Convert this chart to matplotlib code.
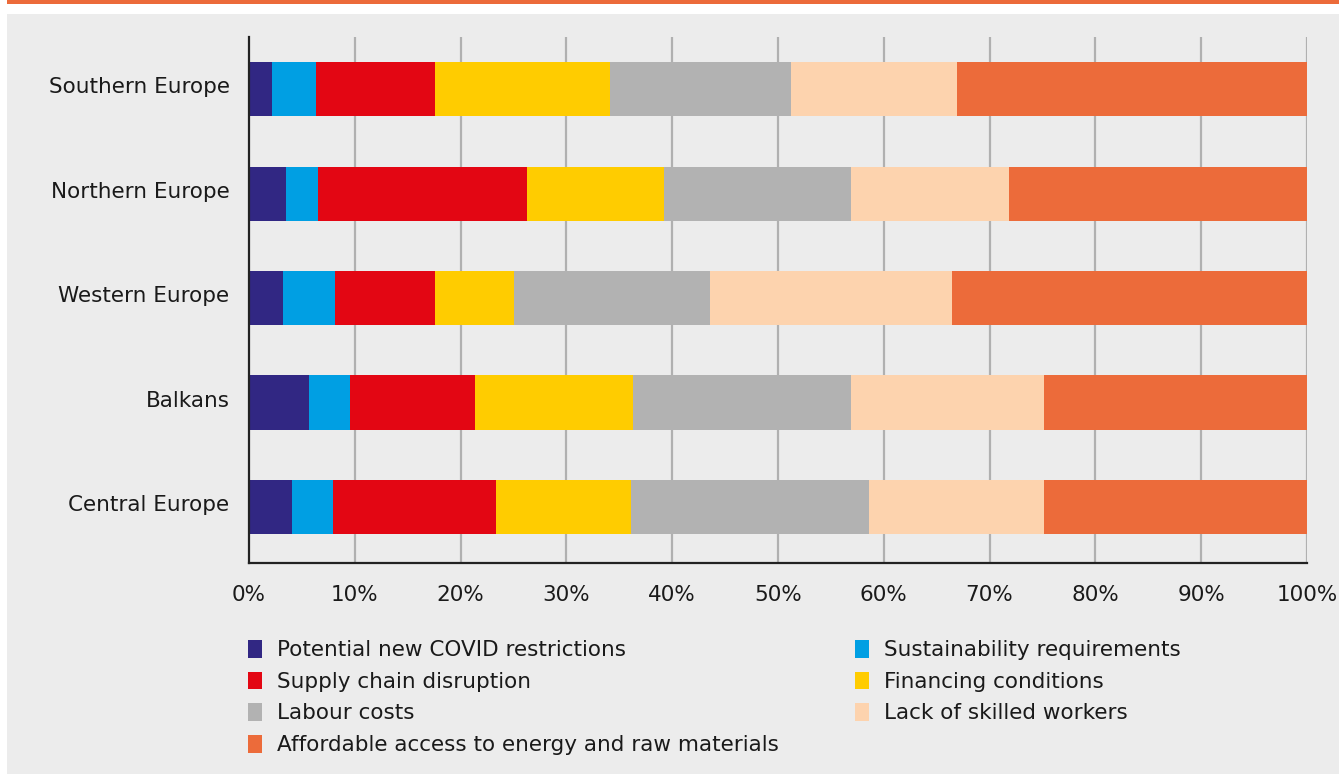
import matplotlib
matplotlib.use("Agg")
import matplotlib.pyplot as plt
from matplotlib.patches import Rectangle, Patch
from matplotlib.transforms import ScaledTranslation

regions = ["Central Europe", "Balkans", "Western Europe", "Northern Europe", "Southern Europe"]
series = ["Potential new COVID restrictions", "Sustainability requirements",
          "Supply chain disruption", "Financing conditions", "Labour costs",
          "Lack of skilled workers", "Affordable access to energy and raw materials"]
colors = ["#312783", "#009FE3", "#E30613", "#FFCC00", "#B2B2B2", "#FDD3AE", "#EC6B3A"]

# values per series, ordered as regions (Central, Balkans, Western, Northern, Southern)
covid = [4.1, 5.7, 3.2, 3.5, 2.2]
sustain = [3.8, 3.8, 4.9, 3.0, 4.1]
supply = [15.4, 11.9, 9.5, 19.8, 11.3]
financing = [12.8, 14.9, 7.4, 12.9, 16.5]
labour = [22.5, 20.6, 18.6, 17.7, 17.1]
skilled = [16.5, 18.2, 22.8, 14.9, 15.7]
energy = [25.0, 25.0, 33.6, 28.2, 33.1]
values = [covid, sustain, supply, financing, labour, skilled, energy]
xticks = [0, 10, 20, 30, 40, 50, 60, 70, 80, 90, 100]
xticklabels = [f"{t}%" for t in xticks]

W, H = 1339, 774
fig = plt.figure(figsize=(W / 100, H / 100), dpi=100)
fig.patch.set_facecolor("white")
bg = "#ECECEC"
fig.patches.append(Rectangle((7 / W, 0), 1 - 7 / W, 1 - 14 / H, transform=fig.transFigure,
                             facecolor=bg, edgecolor="none", zorder=-2))
fig.patches.append(Rectangle((7 / W, 1 - 4 / H), 1 - 7 / W, 4 / H, transform=fig.transFigure,
                             facecolor="#EC6B3A", edgecolor="none", zorder=-2))

left, right = 249 / W, 1307 / W
top, bottom = 1 - 37 / H, 1 - 563 / H
ax = fig.add_axes([left, bottom, right - left, top - bottom])
ax.set_zorder(2)
ax.set_facecolor(bg)

ypos = list(range(len(regions)))
lefts = [0.0] * len(regions)
for name, vals, c in zip(series, values, colors):
    ax.barh(ypos, vals, left=lefts, height=0.52, color=c, edgecolor="none", zorder=3, label=name)
    lefts = [l + v for l, v in zip(lefts, vals)]

ax.set_xlim(0, 100)
ax.set_ylim(-0.536, 4.5)
ax.set_xticks(xticks)
ax.set_xticklabels(xticklabels, fontsize=15.5, color="#1a1a1a")
ax.set_yticks(ypos)
ax.set_yticklabels(regions, fontsize=15.5, color="#1a1a1a")
ax.tick_params(axis="both", length=0)
ax.tick_params(axis="x", pad=16)
ax.tick_params(axis="y", pad=14)
shift = ScaledTranslation(0, 4 / 100, fig.dpi_scale_trans)
for lbl in ax.get_yticklabels():
    lbl.set_transform(lbl.get_transform() + shift)
for t in xticks[1:]:
    ax.axvline(t, color="#B0B0B0", linewidth=1.6, zorder=1)
for s in ["top", "right"]:
    ax.spines[s].set_visible(False)
for s in ["left", "bottom"]:
    ax.spines[s].set_color("#222222")
    ax.spines[s].set_linewidth(1.6)
    ax.spines[s].set_zorder(4)

handles = [Patch(facecolor=c, edgecolor="none") for c in colors]
col1 = [0, 2, 4, 6]
col2 = [1, 3, 5]
common = dict(frameon=False, fontsize=15.5, handlelength=0.65, handleheight=0.9,
              handletextpad=0.68, labelspacing=0.52, borderaxespad=0, borderpad=0,
              labelcolor="#1a1a1a")
fig.legend([handles[i] for i in col1], [series[i] for i in col1],
           loc="upper left", bbox_to_anchor=(248 / W, 1 - 640 / H), **common)
fig.legend([handles[i] for i in col2], [series[i] for i in col2],
           loc="upper left", bbox_to_anchor=(855 / W, 1 - 640 / H), **common)

fig.savefig("out.png", dpi=100, facecolor=fig.get_facecolor())
